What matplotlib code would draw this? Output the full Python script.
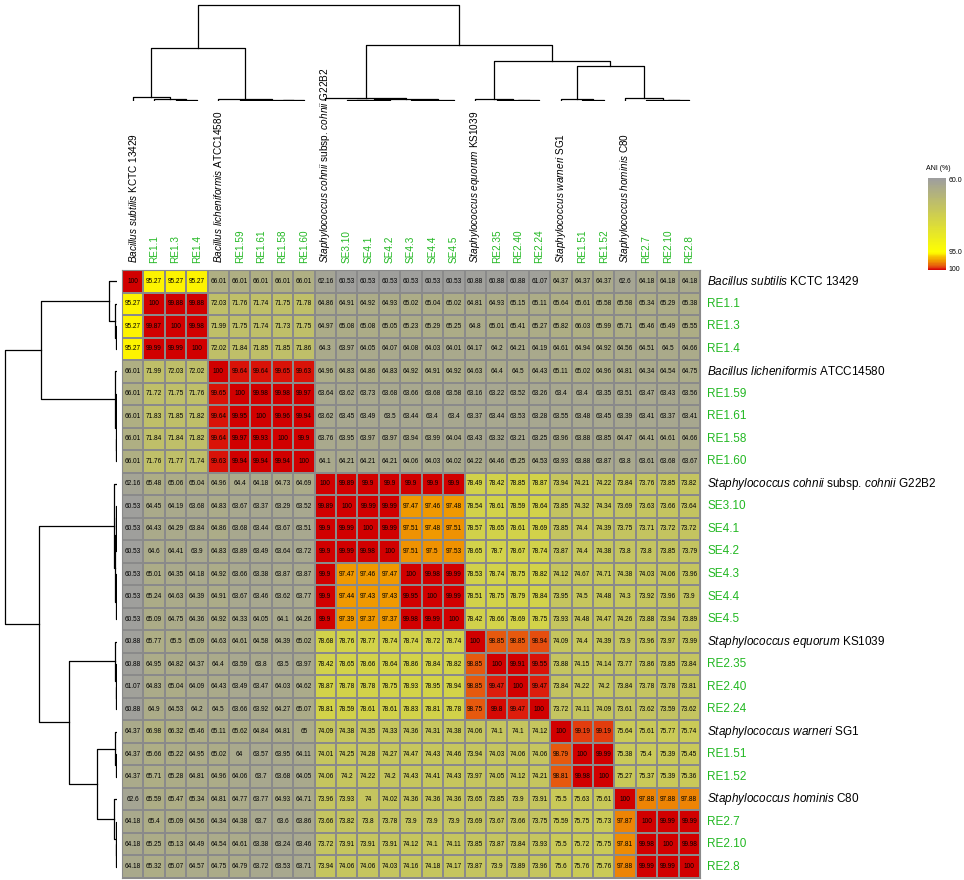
import numpy as np
import matplotlib
matplotlib.use("Agg")
import matplotlib.pyplot as plt
from matplotlib.colors import LinearSegmentedColormap

plt.rcParams['font.family'] = ['Liberation Sans', 'DejaVu Sans']
plt.rcParams['mathtext.fontset'] = 'custom'
plt.rcParams['mathtext.rm'] = 'Liberation Sans'
plt.rcParams['mathtext.it'] = 'Liberation Sans:italic'

labels = [
    r"$\it{Bacillus\ subtilis}$ KCTC 13429", "RE1.1", "RE1.3", "RE1.4",
    r"$\it{Bacillus\ licheniformis}$ ATCC14580", "RE1.59", "RE1.61", "RE1.58", "RE1.60",
    r"$\it{Staphylococcus\ cohnii}$ subsp. $\it{cohnii}$ G22B2",
    "SE3.10", "SE4.1", "SE4.2", "SE4.3", "SE4.4", "SE4.5",
    r"$\it{Staphylococcus\ equorum}$ KS1039", "RE2.35", "RE2.40", "RE2.24",
    r"$\it{Staphylococcus\ warneri}$ SG1", "RE1.51", "RE1.52",
    r"$\it{Staphylococcus\ hominis}$ C80", "RE2.7", "RE2.10", "RE2.8",
]
is_isolate = [not l.startswith("$") for l in labels]

ani = [
    [100, 95.27, 95.27, 95.27, 66.01, 66.01, 66.01, 66.01, 66.01, 62.16, 60.53, 60.53, 60.53, 60.53, 60.53, 60.53, 60.88, 60.88, 60.88, 61.07, 64.37, 64.37, 64.37, 62.6, 64.18, 64.18, 64.18],
    [95.27, 100, 99.88, 99.88, 72.03, 71.76, 71.74, 71.75, 71.78, 64.86, 64.91, 64.92, 64.93, 65.02, 65.04, 65.02, 64.81, 64.93, 65.15, 65.11, 65.64, 65.61, 65.58, 65.58, 65.34, 65.29, 65.38],
    [95.27, 99.87, 100, 99.98, 71.99, 71.75, 71.74, 71.73, 71.75, 64.97, 65.08, 65.08, 65.05, 65.23, 65.29, 65.25, 64.8, 65.01, 65.41, 65.27, 65.82, 66.03, 65.99, 65.71, 65.46, 65.49, 65.55],
    [95.27, 99.99, 99.99, 100, 72.02, 71.84, 71.85, 71.85, 71.86, 64.3, 63.97, 64.05, 64.07, 64.08, 64.03, 64.01, 64.17, 64.2, 64.21, 64.19, 64.61, 64.94, 64.92, 64.56, 64.51, 64.5, 64.66],
    [66.01, 71.99, 72.03, 72.02, 100, 99.64, 99.64, 99.65, 99.63, 64.96, 64.83, 64.86, 64.83, 64.92, 64.91, 64.92, 64.63, 64.4, 64.5, 64.43, 65.11, 65.02, 64.96, 64.81, 64.34, 64.54, 64.75],
    [66.01, 71.72, 71.75, 71.76, 99.65, 100, 99.98, 99.98, 99.97, 63.64, 63.62, 63.73, 63.68, 63.66, 63.68, 63.58, 63.16, 63.22, 63.52, 63.26, 63.4, 63.4, 63.35, 63.51, 63.47, 63.43, 63.56],
    [66.01, 71.83, 71.85, 71.82, 99.64, 99.95, 100, 99.96, 99.94, 63.62, 63.45, 63.49, 63.5, 63.44, 63.4, 63.4, 63.37, 63.44, 63.53, 63.28, 63.55, 63.48, 63.45, 63.39, 63.41, 63.37, 63.41],
    [66.01, 71.84, 71.84, 71.82, 99.64, 99.97, 99.93, 100, 99.9, 63.76, 63.95, 63.97, 63.97, 63.94, 63.99, 64.04, 63.43, 63.32, 63.21, 63.25, 63.96, 63.88, 63.85, 64.47, 64.41, 64.61, 64.66],
    [66.01, 71.76, 71.77, 71.74, 99.63, 99.94, 99.94, 99.94, 100, 64.1, 64.21, 64.21, 64.21, 64.06, 64.03, 64.02, 64.22, 64.46, 65.25, 64.53, 63.93, 63.88, 63.87, 63.8, 63.61, 63.68, 63.67],
    [62.16, 65.48, 65.06, 65.04, 64.96, 64.4, 64.18, 64.73, 64.69, 100, 99.89, 99.9, 99.9, 99.9, 99.9, 99.9, 78.49, 78.42, 78.85, 78.87, 73.94, 74.21, 74.22, 73.84, 73.76, 73.85, 73.82],
    [60.53, 64.45, 64.19, 63.68, 64.83, 63.67, 63.37, 63.29, 63.52, 99.89, 100, 99.99, 99.99, 97.47, 97.46, 97.48, 78.54, 78.61, 78.59, 78.64, 73.85, 74.32, 74.34, 73.69, 73.63, 73.66, 73.64],
    [60.53, 64.43, 64.29, 63.84, 64.86, 63.68, 63.44, 63.67, 63.51, 99.9, 99.99, 100, 99.99, 97.51, 97.48, 97.51, 78.57, 78.65, 78.61, 78.69, 73.85, 74.4, 74.39, 73.75, 73.71, 73.72, 73.72],
    [60.53, 64.6, 64.41, 63.9, 64.83, 63.89, 63.49, 63.64, 63.72, 99.9, 99.99, 99.98, 100, 97.51, 97.5, 97.53, 78.65, 78.7, 78.67, 78.74, 73.87, 74.4, 74.38, 73.8, 73.8, 73.85, 73.79],
    [60.53, 65.01, 64.35, 64.18, 64.92, 63.66, 63.38, 63.87, 63.87, 99.9, 97.47, 97.46, 97.47, 100, 99.98, 99.99, 78.53, 78.74, 78.75, 78.82, 74.12, 74.67, 74.71, 74.38, 74.03, 74.06, 73.96],
    [60.53, 65.24, 64.63, 64.39, 64.91, 63.67, 63.46, 63.62, 63.77, 99.9, 97.44, 97.43, 97.43, 99.95, 100, 99.99, 78.51, 78.75, 78.79, 78.84, 73.95, 74.5, 74.48, 74.3, 73.92, 73.96, 73.9],
    [60.53, 65.09, 64.75, 64.36, 64.92, 64.33, 64.05, 64.1, 64.26, 99.9, 97.39, 97.37, 97.37, 99.98, 99.99, 100, 78.42, 78.66, 78.69, 78.75, 73.93, 74.48, 74.47, 74.26, 73.88, 73.94, 73.89],
    [60.88, 65.77, 65.5, 65.09, 64.63, 64.61, 64.58, 64.39, 65.02, 78.68, 78.76, 78.77, 78.74, 78.74, 78.72, 78.74, 100, 98.85, 98.85, 98.94, 74.09, 74.4, 74.39, 73.9, 73.96, 73.97, 73.99],
    [60.88, 64.95, 64.82, 64.37, 64.4, 63.59, 63.8, 63.5, 63.97, 78.42, 78.65, 78.66, 78.64, 78.86, 78.84, 78.82, 98.85, 100, 99.91, 99.55, 73.88, 74.15, 74.14, 73.77, 73.86, 73.85, 73.84],
    [61.07, 64.83, 65.04, 64.09, 64.43, 63.49, 63.47, 64.03, 64.62, 78.87, 78.78, 78.78, 78.75, 78.93, 78.95, 78.94, 98.85, 99.47, 100, 99.47, 73.84, 74.22, 74.2, 73.84, 73.78, 73.78, 73.81],
    [60.88, 64.9, 64.53, 64.2, 64.5, 63.66, 63.92, 64.27, 65.07, 78.81, 78.59, 78.61, 78.61, 78.83, 78.81, 78.78, 98.75, 99.8, 99.47, 100, 73.72, 74.11, 74.09, 73.61, 73.62, 73.59, 73.62],
    [64.37, 66.98, 66.32, 65.46, 65.11, 65.62, 64.84, 64.81, 65, 74.09, 74.38, 74.35, 74.33, 74.36, 74.31, 74.38, 74.06, 74.1, 74.1, 74.12, 100, 99.19, 99.19, 75.64, 75.61, 75.77, 75.74],
    [64.37, 65.66, 65.22, 64.95, 65.02, 64, 63.57, 63.95, 64.11, 74.01, 74.25, 74.28, 74.27, 74.47, 74.43, 74.46, 73.94, 74.03, 74.06, 74.06, 98.79, 100, 99.99, 75.38, 75.4, 75.39, 75.45],
    [64.37, 65.71, 65.28, 64.81, 64.96, 64.06, 63.7, 63.68, 64.05, 74.06, 74.2, 74.22, 74.2, 74.43, 74.41, 74.43, 73.97, 74.05, 74.12, 74.21, 98.81, 99.98, 100, 75.27, 75.37, 75.39, 75.36],
    [62.6, 65.59, 65.47, 65.34, 64.81, 64.77, 63.77, 64.93, 64.71, 73.96, 73.93, 74, 74.02, 74.36, 74.36, 74.36, 73.65, 73.85, 73.9, 73.91, 75.5, 75.63, 75.61, 100, 97.88, 97.88, 97.88],
    [64.18, 65.4, 65.09, 64.56, 64.34, 64.38, 63.7, 63.6, 63.86, 73.66, 73.82, 73.8, 73.78, 73.9, 73.9, 73.9, 73.69, 73.67, 73.66, 73.75, 75.59, 75.75, 75.73, 97.87, 100, 99.99, 99.99],
    [64.18, 65.25, 65.13, 64.49, 64.54, 64.61, 63.38, 63.24, 63.46, 73.72, 73.91, 73.91, 73.91, 74.12, 74.1, 74.11, 73.85, 73.87, 73.84, 73.93, 75.5, 75.72, 75.75, 97.81, 99.98, 100, 99.98],
    [64.18, 65.32, 65.07, 64.57, 64.75, 64.79, 63.72, 63.53, 63.71, 73.94, 74.06, 74.06, 74.03, 74.16, 74.18, 74.17, 73.87, 73.9, 73.89, 73.96, 75.6, 75.76, 75.76, 97.88, 99.99, 99.99, 100],
]

# dendrogram merges: (child a, child b, height); ids >= 27 are earlier merges
top_merges = [
    (2, 3, 1), (1, 27, 2), (0, 28, 4),
    (5, 6, 0.5), (7, 8, 0.5), (30, 31, 1), (4, 32, 1.5),
    (29, 33, 52),
    (10, 11, 0.5), (35, 12, 1), (13, 14, 0.5), (37, 15, 1), (36, 38, 2), (9, 39, 3),
    (18, 19, 0.5), (17, 41, 1), (16, 42, 2),
    (21, 22, 0.5), (20, 44, 2),
    (25, 26, 0.5), (24, 46, 1), (23, 47, 3),
    (45, 48, 35),
    (43, 49, 40),
    (40, 50, 55),
    (34, 51, 95),
]
left_merges = [
    (2, 3, 1), (1, 27, 2), (0, 28, 8),
    (5, 6, 0.5), (7, 8, 0.5), (30, 31, 1), (4, 32, 1.5),
    (29, 33, 75),
    (10, 11, 0.5), (35, 12, 1), (13, 14, 0.5), (37, 15, 1), (36, 38, 2), (9, 39, 3),
    (18, 19, 0.5), (17, 41, 1), (16, 42, 2),
    (21, 22, 0.5), (20, 44, 2),
    (25, 26, 0.5), (24, 46, 1), (23, 47, 3),
    (45, 48, 20),
    (43, 49, 47),
    (40, 50, 77),
    (34, 51, 110),
]

cbar_ticklabels = ["60.0", "95.0", "100"]


def dendro_segments(merges, n):
    pos = {i: (i + 0.5, 0.0) for i in range(n)}
    segs = []
    for k, (a, b, h) in enumerate(merges):
        xa, ha = pos[a]
        xb, hb = pos[b]
        segs.append(([xa, xa, xb, xb], [ha, h, h, hb]))
        pos[n + k] = ((xa + xb) / 2, h)
    return segs


def main():
    data = np.array(ani)
    n = len(labels)
    W, H = 964, 880
    fig = plt.figure(figsize=(W / 100, H / 100), dpi=100)

    def px_axes(x0, y0, x1, y1):
        return fig.add_axes([x0 / W, 1 - y1 / H, (x1 - x0) / W, (y1 - y0) / H])

    cmap = LinearSegmentedColormap.from_list("ani", [
        (0.0, (0.62, 0.62, 0.62)),
        (35 / 40, (1.0, 1.0, 0.0)),
        (37.5 / 40, (0.94, 0.60, 0.0)),
        (39 / 40, (0.90, 0.33, 0.06)),
        (39.5 / 40, (0.87, 0.12, 0.05)),
        (1.0, (0.82, 0.0, 0.0)),
    ])

    # heatmap
    hx0, hy0, hx1, hy1 = 122, 270, 700, 878
    ax = px_axes(hx0, hy0, hx1, hy1)
    ax.pcolormesh(np.arange(n + 1), np.arange(n + 1), data, cmap=cmap,
                  vmin=60, vmax=100, edgecolors='#8a8a8a', linewidth=1.2)
    ax.set_xlim(0, n)
    ax.set_ylim(n, 0)
    ax.set_xticks([])
    ax.set_yticks([])
    for s in ax.spines.values():
        s.set_color('#8a8a8a')
    for i in range(n):
        for j in range(n):
            v = data[i, j]
            txt = "100" if v == 100 else f"{v:g}"
            ax.text(j + 0.5, i + 0.5, txt, ha='center', va='center', fontsize=4.7, color='black')

    green = '#22b822'
    # row labels
    for i, lab in enumerate(labels):
        ax.text(n + 0.35, i + 0.5, lab, ha='left', va='center', fontsize=8.5,
                color=green if is_isolate[i] else 'black', clip_on=False)
    # column labels
    for j, lab in enumerate(labels):
        ax.text(j + 0.5, -0.3, lab, ha='center', va='bottom', rotation=90, fontsize=7.2,
                color=green if is_isolate[j] else 'black', clip_on=False)

    # top dendrogram
    axt = px_axes(hx0, 4, hx1, 101)
    for xs, ys in dendro_segments(top_merges, n):
        axt.plot(xs, ys, color='black', lw=0.9)
    axt.set_xlim(0, n)
    axt.set_ylim(0, 96)
    axt.axis('off')

    # left dendrogram
    axl = px_axes(3, hy0, 117, hy1)
    for xs, ys in dendro_segments(left_merges, n):
        axl.plot(ys, xs, color='black', lw=0.9)
    axl.set_ylim(n, 0)
    axl.set_xlim(112, 0)
    axl.axis('off')

    # colour key
    axc = px_axes(928, 178, 946, 270)
    vals = np.concatenate([np.linspace(60, 95, 80), np.linspace(95, 100, 20)])
    yy = np.concatenate([np.linspace(0, 0.8, 80), np.linspace(0.8, 1.0, 20)])
    axc.pcolormesh([0, 1], yy, vals[:-1, None], cmap=cmap, vmin=60, vmax=100)
    axc.set_ylim(1, 0)
    axc.set_xlim(0, 1)
    axc.set_xticks([])
    axc.yaxis.tick_right()
    axc.set_yticks([0.02, 0.8, 0.98])
    axc.set_yticklabels(cbar_ticklabels, fontsize=5)
    axc.tick_params(axis='y', length=0, pad=2)
    for s in axc.spines.values():
        s.set_visible(False)
    fig.text(926 / W, 1 - 172 / H, "ANI (%)", fontsize=5, ha='left', va='bottom')

    fig.savefig("out.png", dpi=100, facecolor='white')


if __name__ == "__main__":
    main()
